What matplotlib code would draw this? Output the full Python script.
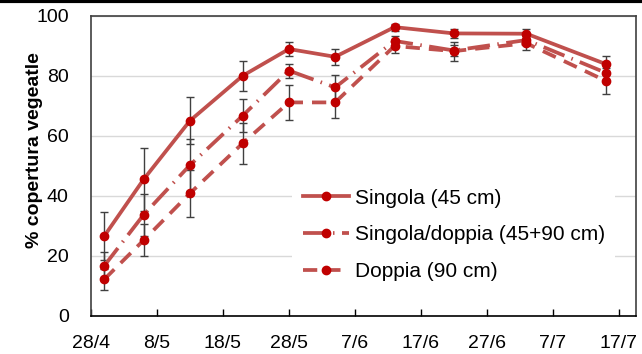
import matplotlib
matplotlib.use("Agg")
import matplotlib.pyplot as plt
import matplotlib.dates as mdates
from matplotlib.lines import Line2D
import pandas as pd

plt.rcParams['font.family'] = ['Liberation Sans', 'DejaVu Sans']

# sampling dates and canopy cover (%) with standard errors
dates = pd.to_datetime(["2019-04-30", "2019-05-06", "2019-05-13", "2019-05-21", "2019-05-28",
                        "2019-06-04", "2019-06-13", "2019-06-22", "2019-07-03", "2019-07-15"])
singola = [26.5, 45.5, 65.0, 80.0, 88.9, 86.3, 96.2, 94.1, 94.0, 83.9]
singola_err = [8.0, 10.5, 7.9, 5.0, 2.4, 2.6, 1.2, 1.5, 1.5, 2.8]
sing_dopp = [16.6, 33.7, 50.2, 66.7, 81.7, 76.1, 91.6, 88.4, 91.9, 81.0]
sing_dopp_err = [4.8, 7.0, 8.6, 5.4, 2.3, 4.2, 1.5, 1.8, 1.5, 2.5]
doppia = [12.1, 25.2, 40.8, 57.5, 71.1, 71.1, 89.9, 88.2, 90.8, 78.3]
doppia_err = [3.5, 5.4, 7.9, 6.8, 5.9, 5.2, 2.2, 3.2, 2.3, 4.3]
labels = ["Singola (45 cm)", "Singola/doppia (45+90 cm)", "Doppia (90 cm)"]

tick_dates = pd.date_range("2019-04-28", periods=9, freq="10D")
tick_labels = [f"{d.day}/{d.month}" for d in tick_dates]

line_col = '#C0504D'
mark_col = '#C00000'
err_col = '#404040'

fig = plt.figure(figsize=(6.42, 3.54), dpi=100)
ax = fig.add_axes([0.1417, 0.1082, 0.849, 0.8474])

styles = ['-', (0, (6, 2, 0.4, 2)), (0, (3.8, 2.4))]
series = [(singola, singola_err), (sing_dopp, sing_dopp_err), (doppia, doppia_err)]
for (vals, errs), ls, lab in zip(series, styles, labels):
    ax.errorbar(dates, vals, yerr=errs, fmt='none', ecolor=err_col, elinewidth=1,
                capsize=3, capthick=1, zorder=3)
    ax.plot(dates, vals, color=line_col, ls=ls, lw=2.7, marker='o', ms=6,
            mfc=mark_col, mec=mark_col, label=lab, zorder=4)

ax.set_ylim(0, 100)
ax.set_yticks([0, 20, 40, 60, 80, 100])
ax.set_xlim(mdates.date2num(tick_dates[0]), mdates.date2num(tick_dates[0]) + 82.6)
ax.set_xticks(tick_dates)
ax.set_xticklabels(tick_labels)
ax.grid(axis='y', color='#D9D9D9', lw=1)
ax.set_axisbelow(True)

ax.tick_params(axis='y', length=0, pad=16, labelsize=14)
ax.tick_params(axis='x', direction='in', length=5, width=1, pad=14, labelsize=14,
               color='black')
for side in ['left', 'top', 'right']:
    ax.spines[side].set_color('#404040')
    ax.spines[side].set_linewidth(1.2)
ax.spines['bottom'].set_color('black')
ax.spines['bottom'].set_linewidth(1.2)

fig.text(35 / 642, 1 - 150 / 354, "% copertura vegeatle", rotation=90, fontsize=14,
         fontweight='bold', ha='center', va='center')

leg = ax.legend(loc='upper left', bbox_to_anchor=(0.35, 0.493), frameon=True,
                fontsize=15, handlelength=2.25, handletextpad=0.25, labelspacing=0.85,
                borderpad=0.5)
leg.get_frame().set_facecolor('white')
leg.get_frame().set_edgecolor('none')
leg.get_frame().set_alpha(1)

# thin black rule at the top edge
fig.add_artist(Line2D([0, 1], [0.996, 0.996], transform=fig.transFigure, color='black', lw=3))

fig.savefig("out.png", dpi=100)
